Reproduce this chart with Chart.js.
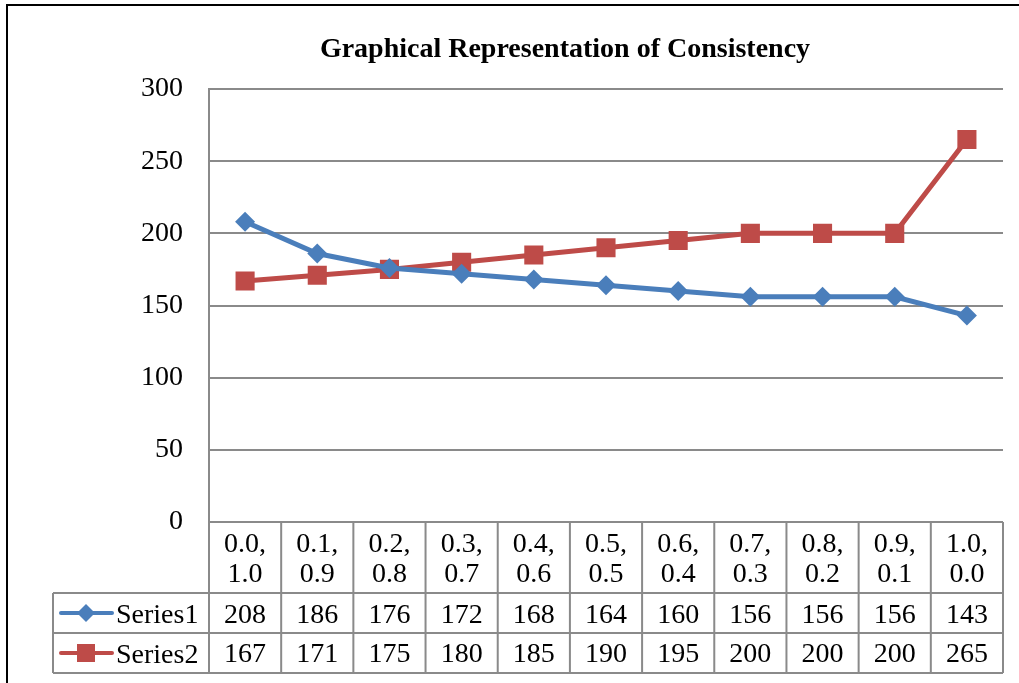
<!DOCTYPE html>
<html>
<head>
<meta charset="utf-8">
<script src="https://cdn.jsdelivr.net/npm/chart.js@4/dist/chart.umd.min.js"></script>
<style>
  html, body { margin: 0; padding: 0; background: #fff; }
  #wrap { width: 1019px; height: 683px; position: relative; }
</style>
</head>
<body>
<div id="wrap"><canvas id="consistencyChart"></canvas></div>
<script>
const chartTitle = "Graphical Representation of Consistency";
const categories = [
  ["0.0,", "1.0"], ["0.1,", "0.9"], ["0.2,", "0.8"], ["0.3,", "0.7"],
  ["0.4,", "0.6"], ["0.5,", "0.5"], ["0.6,", "0.4"], ["0.7,", "0.3"],
  ["0.8,", "0.2"], ["0.9,", "0.1"], ["1.0,", "0.0"],
];
const series1 = [208, 186, 176, 172, 168, 164, 160, 156, 156, 156, 143];
const series2 = [167, 171, 175, 180, 185, 190, 195, 200, 200, 200, 265];
const seriesNames = ["Series1", "Series2"];
const yTicks = [0, 50, 100, 150, 200, 250, 300];

const BLUE = "#4a7ebb";
const RED = "#be4b48";
const GRID = "#8a8a8a";
const FONT = "'Liberation Serif', 'Times New Roman', serif";

// frame, title and the data table under the plot
const tablePlugin = {
  id: "dataTable",
  afterDraw(chart) {
    const ctx = chart.ctx;
    const x = chart.scales.x;
    const area = chart.chartArea;
    const step = x.getPixelForValue(1) - x.getPixelForValue(0);
    const left = x.getPixelForValue(0) - step / 2;
    const right = x.getPixelForValue(categories.length - 1) + step / 2;
    const top = area.bottom;
    const row1 = top + 71;
    const row2 = row1 + 40;
    const bottom = row2 + 40;
    const legendLeft = 53;

    ctx.save();
    // outer frame
    ctx.strokeStyle = "#000";
    ctx.lineWidth = 2;
    ctx.beginPath();
    ctx.moveTo(7, 683);
    ctx.lineTo(7, 5);
    ctx.lineTo(1019, 5);
    ctx.stroke();

    // title
    ctx.fillStyle = "#000";
    ctx.font = "bold 28px " + FONT;
    ctx.textAlign = "center";
    ctx.textBaseline = "alphabetic";
    ctx.fillText(chartTitle, 565, 57);

    // grid of the table
    ctx.strokeStyle = GRID;
    ctx.lineWidth = 2;
    ctx.beginPath();
    ctx.moveTo(left, top);
    ctx.lineTo(right, top);
    [row1, row2, bottom].forEach((y) => {
      ctx.moveTo(legendLeft, y);
      ctx.lineTo(right, y);
    });
    ctx.moveTo(legendLeft, row1);
    ctx.lineTo(legendLeft, bottom);
    for (let i = 0; i <= categories.length; i++) {
      const cx = left + i * step;
      ctx.moveTo(cx, top);
      ctx.lineTo(cx, bottom);
    }
    ctx.stroke();

    // text
    ctx.fillStyle = "#000";
    ctx.font = "28px " + FONT;
    ctx.textAlign = "center";
    categories.forEach((lines, i) => {
      const cx = x.getPixelForValue(i);
      ctx.fillText(lines[0], cx, top + 30);
      ctx.fillText(lines[1], cx, top + 60);
      ctx.fillText(String(series1[i]), cx, row1 + 30);
      ctx.fillText(String(series2[i]), cx, row2 + 29);
    });

    // legend keys
    const keys = [
      { color: BLUE, shape: "diamond", y: row1 + 20, name: seriesNames[0] },
      { color: RED, shape: "square", y: row2 + 20, name: seriesNames[1] },
    ];
    keys.forEach((k) => {
      ctx.strokeStyle = k.color;
      ctx.fillStyle = k.color;
      ctx.lineWidth = 4;
      ctx.lineCap = "round";
      ctx.beginPath();
      ctx.moveTo(61, k.y);
      ctx.lineTo(112, k.y);
      ctx.stroke();
      ctx.beginPath();
      if (k.shape === "diamond") {
        ctx.moveTo(86 - 9, k.y);
        ctx.lineTo(86, k.y - 9);
        ctx.lineTo(86 + 9, k.y);
        ctx.lineTo(86, k.y + 9);
        ctx.closePath();
      } else {
        ctx.rect(86 - 9, k.y - 9, 18, 18);
      }
      ctx.fill();
      ctx.fillStyle = "#000";
      ctx.textAlign = "left";
      ctx.fillText(k.name, 116, k.y + 10);
    });
    ctx.restore();
  },
};

new Chart(document.getElementById("consistencyChart"), {
  type: "line",
  data: {
    labels: categories,
    datasets: [
      {
        label: seriesNames[0],
        data: series1,
        borderColor: BLUE,
        backgroundColor: BLUE,
        borderWidth: 5,
        pointStyle: "rectRot",
        pointRadius: 10,
        pointHoverRadius: 10,
        pointBorderWidth: 0,
        tension: 0,
      },
      {
        label: seriesNames[1],
        data: series2,
        borderColor: RED,
        backgroundColor: RED,
        borderWidth: 5,
        pointStyle: "rect",
        pointRadius: 13.5,
        pointHoverRadius: 13.5,
        pointBorderWidth: 0,
        tension: 0,
      },
    ],
  },
  options: {
    responsive: true,
    maintainAspectRatio: false,
    animation: false,
    layout: { padding: { top: 89, right: 16, bottom: 161, left: 0 } },
    plugins: {
      legend: { display: false },
      title: { display: false },
      tooltip: { enabled: false },
    },
    scales: {
      x: { type: "category", offset: true, display: false },
      y: {
        min: yTicks[0],
        max: yTicks[yTicks.length - 1],
        afterFit: (scale) => { scale.width = 209; },
        afterBuildTicks: (scale) => {
          scale.ticks = yTicks.map((v) => ({ value: v }));
        },
        ticks: {
          color: "#000",
          font: { family: FONT, size: 28 },
          padding: 26,
        },
        grid: { color: GRID, lineWidth: 2, drawTicks: false },
        border: { color: GRID, width: 2 },
      },
    },
  },
  plugins: [tablePlugin],
});
</script>
</body>
</html>
